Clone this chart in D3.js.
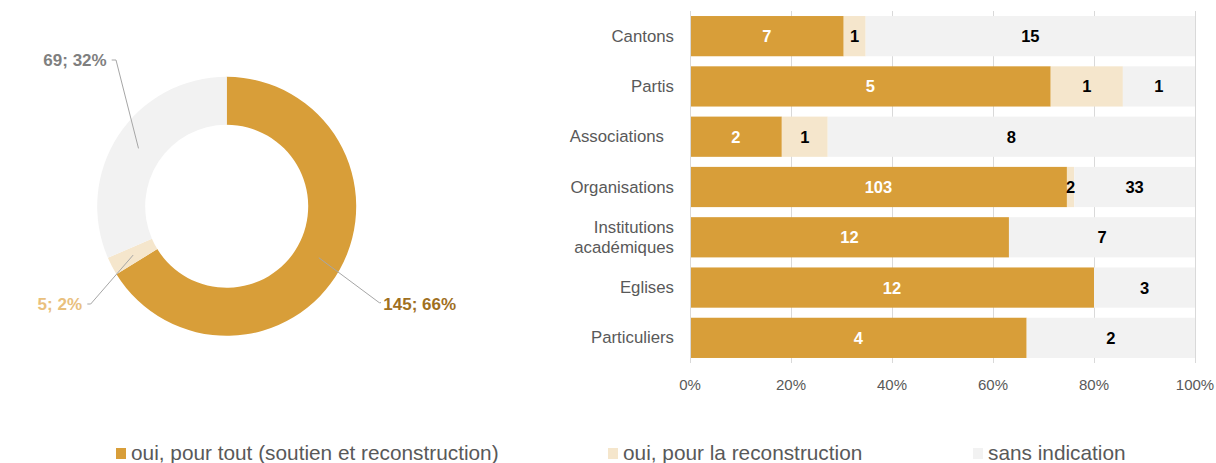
<!DOCTYPE html>
<html><head><meta charset="utf-8">
<script src="https://cdn.jsdelivr.net/npm/d3@7"></script>
<style>
html,body{margin:0;padding:0;background:#fff;}
svg{display:block;font-family:"Liberation Sans",Arial,sans-serif;}
</style></head>
<body>
<svg id="c" width="1216" height="463"></svg>
<script>
// ---- data ----
const seriesNames = ["oui, pour tout (soutien et reconstruction)", "oui, pour la reconstruction", "sans indication"];
const donutValues = [145, 5, 69];
const donutLabels = ["145; 66%", "5; 2%", "69; 32%"];
const categories = ["Cantons", "Partis", "Associations", "Organisations", "Institutions\nacadémiques", "Eglises", "Particuliers"];
const valsAll = [7, 5, 2, 103, 12, 12, 4];
const valsReco = [1, 1, 1, 2, 0, 0, 0];
const valsNone = [15, 1, 8, 33, 7, 3, 2];
const xTicks = [0, 0.2, 0.4, 0.6, 0.8, 1];

const colors = ["#D89E39", "#F5E6CC", "#F2F2F2"];
const labelColorsDonut = ["#A0701F", "#E9C07D", "#7F7F7F"];
const barLabelColors = ["#ffffff", "#000000", "#000000"];

const svg = d3.select("#c");

// ---- donut ----
const cx = 226.7, cy = 206.3, R = 129.5, r = 81.5;
const pie = d3.pie().sort(null).value(d => d)(donutValues);
const arc = d3.arc().innerRadius(r).outerRadius(R);
const dg = svg.append("g").attr("transform", `translate(${cx},${cy})`);
dg.selectAll("path").data(pie).enter().append("path")
  .attr("d", arc).attr("fill", (d, i) => colors[i]);

// label layout (relative to centre): elbow point, text anchor
const labelLayout = [
  {elbow: [152.6, 96.4], end: [154.3, 96.4], tx: 156.6, ty: 98.7, anchor: "start"},
  {elbow: [-136, 97.7], end: [-139.4, 97.7], tx: -144.7, ty: 98.7, anchor: "end"},
  {elbow: [-110.7, -146.3], end: [-115, -146.3], tx: -120, ty: -146.3, anchor: "end"}
];
const mid = d3.arc().innerRadius((r + R) / 2).outerRadius((r + R) / 2);
pie.forEach((d, i) => {
  const c = mid.centroid(d);
  const L = labelLayout[i];
  dg.append("polyline")
    .attr("points", [c, L.elbow, L.end].map(p => p.join(",")).join(" "))
    .attr("fill", "none").attr("stroke", "#A6A6A6").attr("stroke-width", 1);
  dg.append("text").attr("x", L.tx).attr("y", L.ty)
    .attr("text-anchor", L.anchor).attr("dominant-baseline", "central")
    .attr("font-size", "17px").attr("font-weight", "bold")
    .attr("fill", labelColorsDonut[i]).text(donutLabels[i]);
});

// ---- stacked 100% bar ----
const x = d3.scaleLinear().domain([0, 1]).range([690, 1195]);
const y = d3.scaleBand().domain(categories).range([11, 363]).paddingInner(0.2).paddingOuter(0.1);

const bg = svg.append("g");
// gridlines
bg.selectAll("line.grid").data(xTicks).enter().append("line")
  .attr("x1", d => x(d)).attr("x2", d => x(d))
  .attr("y1", 11).attr("y2", 363)
  .attr("stroke", "#D9D9D9").attr("stroke-width", 1)
  .attr("shape-rendering", "crispEdges");

const rows = categories.map((c, i) => {
  const v = [valsAll[i], valsReco[i], valsNone[i]];
  const tot = v[0] + v[1] + v[2];
  let acc = 0;
  return v.map((val, k) => {
    const s = {cat: c, k, val, x0: acc / tot, x1: (acc + val) / tot};
    acc += val;
    return s;
  });
}).flat();

bg.selectAll("rect.seg").data(rows.filter(d => d.val > 0)).enter().append("rect")
  .attr("x", d => x(d.x0)).attr("width", d => x(d.x1) - x(d.x0))
  .attr("y", d => y(d.cat)).attr("height", y.bandwidth())
  .attr("fill", d => colors[d.k]);

bg.selectAll("text.val").data(rows.filter(d => d.val > 0)).enter().append("text")
  .attr("x", d => (x(d.x0) + x(d.x1)) / 2)
  .attr("y", d => y(d.cat) + y.bandwidth() / 2)
  .attr("text-anchor", "middle").attr("dominant-baseline", "central")
  .attr("font-size", "16.5px").attr("font-weight", "bold")
  .attr("fill", d => barLabelColors[d.k]).text(d => d.val);

// left axis line
bg.append("line").attr("x1", x(0)).attr("x2", x(0)).attr("y1", 11).attr("y2", 363)
  .attr("stroke", "#D9D9D9").attr("shape-rendering", "crispEdges");

// category labels
categories.forEach(c => {
  const lines = c.split("\n");
  const yc = y(c) + y.bandwidth() / 2;
  const t = bg.append("text").attr("text-anchor", "end")
    .attr("font-size", "16.8px").attr("fill", "#595959");
  const extra = c === "Associations" ? 10 : 0;
  lines.forEach((ln, j) => {
    t.append("tspan").attr("x", x(0) - 16 - extra)
      .attr("y", yc + (j - (lines.length - 1) / 2) * 19.5)
      .attr("dominant-baseline", "central").text(ln);
  });
});

// x tick labels
bg.selectAll("text.tick").data(xTicks).enter().append("text")
  .attr("x", d => x(d)).attr("y", 384.5)
  .attr("text-anchor", "middle").attr("dominant-baseline", "central")
  .attr("font-size", "15px").attr("fill", "#595959")
  .text(d => d3.format(".0%")(d));

// ---- legend ----
const legX = [116, 608, 973];
const lg = svg.append("g");
seriesNames.forEach((s, i) => {
  lg.append("rect").attr("x", legX[i]).attr("y", 448).attr("width", 10).attr("height", 11)
    .attr("fill", colors[i]);
  lg.append("text").attr("x", legX[i] + 15).attr("y", 460)
    .attr("font-size", "20.8px").attr("fill", "#595959").text(s);
});
</script>
</body></html>
